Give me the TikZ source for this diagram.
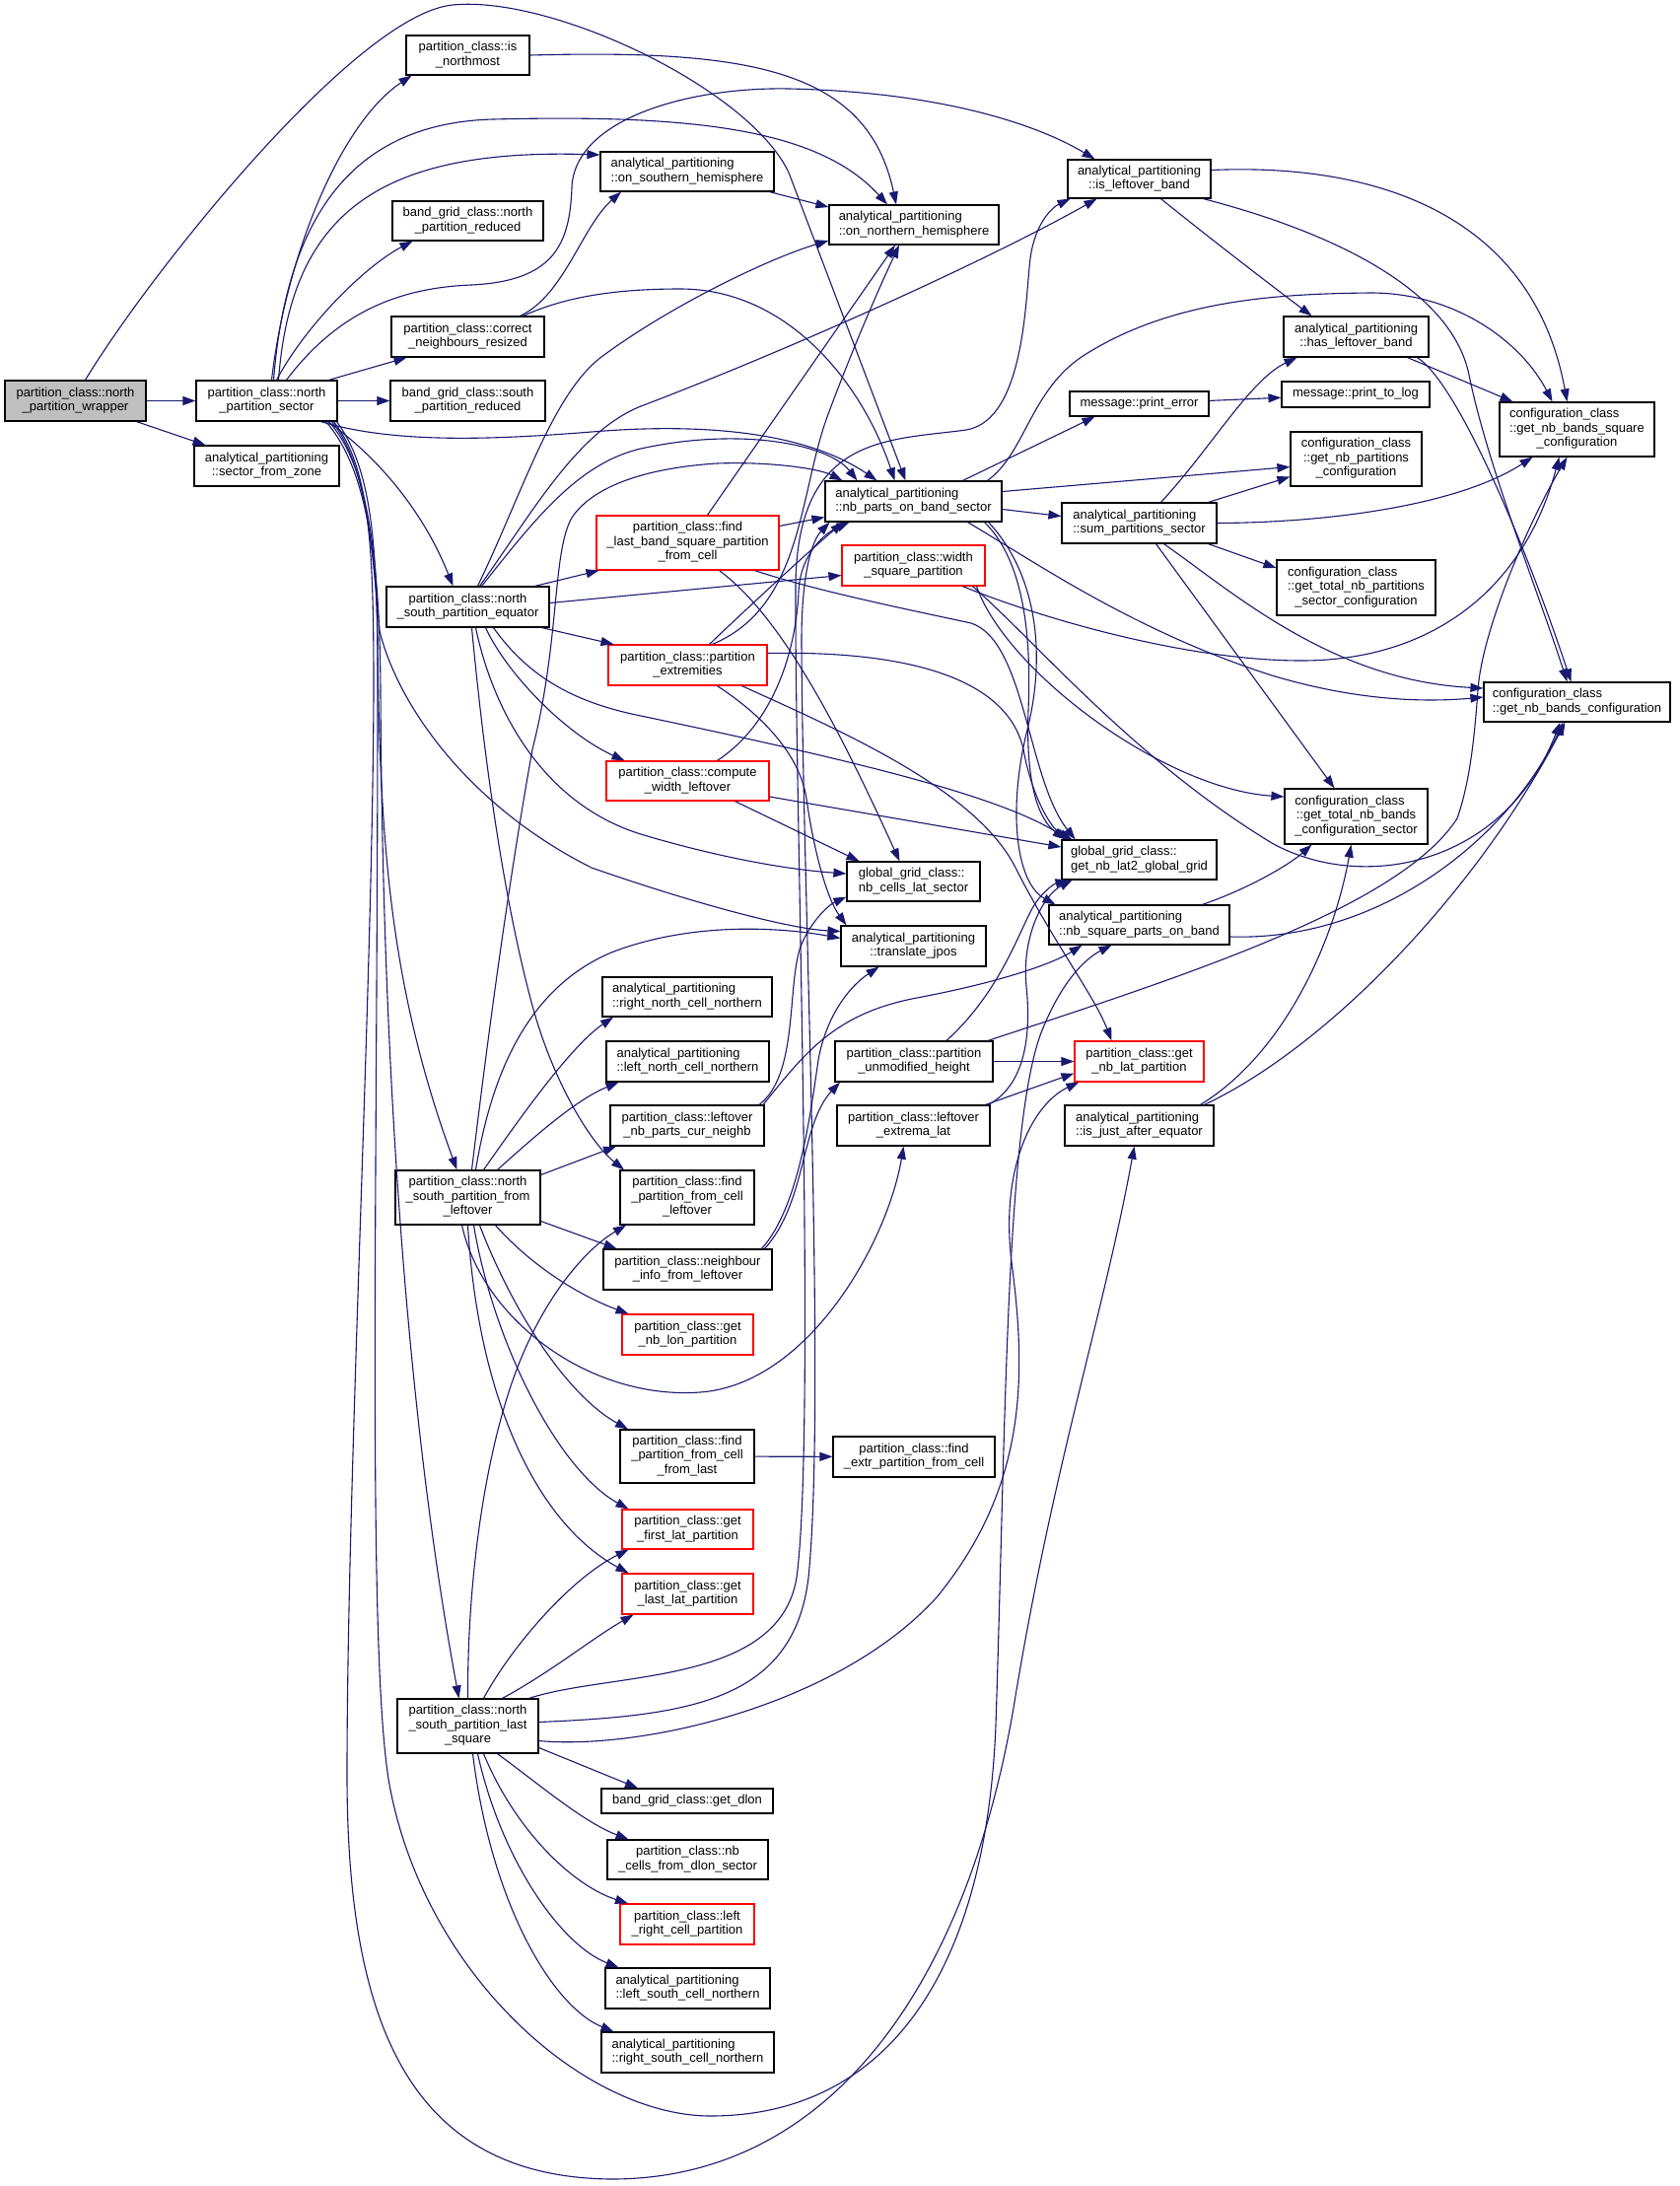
\documentclass[tikz,border=0pt]{standalone}
\usepackage{fontspec}
\setmainfont{Liberation Sans}
\usetikzlibrary{arrows.meta}
\definecolor{edgeblue}{HTML}{191970}
\definecolor{boxgray}{HTML}{BFBFBF}
\newcommand\ctx[1]{\begin{tabular}{@{}c@{}}#1\end{tabular}}
\newcommand\lfx[2]{\begin{tabular}{@{}c@{}}\multicolumn{1}{@{}l@{}}{#1}\\#2\end{tabular}}
\newcommand\mknode[7]{\node[#1,minimum width=#5pt,minimum height=#6pt] (#2) at (#3,#4) {#7};}
\begin{document}
\begin{tikzpicture}[x=1pt,y=-1pt,
 nbox/.style={draw=black,line width=1.2pt,fill=white,inner sep=0pt,font=\fontsize{13}{14.5}\selectfont},
 rbox/.style={nbox,draw=red},
 gbox/.style={nbox,fill=boxgray},
 cedge/.style={draw=edgeblue,line width=1.1pt,-{Triangle[length=13pt,width=9pt]}}]
\fill[white] (0,0) rectangle (1704,2217);
\useasboundingbox (0,0) rectangle (1704,2217);
% nodes
\mknode{gbox}{W}{76.5}{406.5}{143}{41}{\ctx{partition\_class::north\\\_partition\_wrapper}}
\mknode{nbox}{NPS}{270.5}{406.5}{143}{41}{\ctx{partition\_class::north\\\_partition\_sector}}
\mknode{nbox}{SFZ}{270.5}{472.5}{147}{41}{\lfx{analytical\_partitioning}{::sector\_from\_zone}}
\mknode{nbox}{ISN}{474.5}{56}{125}{40}{\ctx{partition\_class::is\\\_northmost}}
\mknode{nbox}{NPR}{474.5}{224}{153}{40}{\ctx{band\_grid\_class::north\\\_partition\_reduced}}
\mknode{nbox}{CNR}{474.5}{341.5}{155}{41}{\ctx{partition\_class::correct\\\_neighbours\_resized}}
\mknode{nbox}{SPR}{474.5}{406.5}{157}{41}{\ctx{band\_grid\_class::south\\\_partition\_reduced}}
\mknode{nbox}{EQ}{474.5}{615.5}{165}{41}{\ctx{partition\_class::north\\\_south\_partition\_equator}}
\mknode{nbox}{FL}{474.5}{1214.5}{147}{55}{\ctx{partition\_class::north\\\_south\_partition\_from\\\_leftover}}
\mknode{nbox}{LS}{474.5}{1750.5}{143}{55}{\ctx{partition\_class::north\\\_south\_partition\_last\\\_square}}
\mknode{nbox}{OSH}{697}{174}{176}{40}{\lfx{analytical\_partitioning}{::on\_southern\_hemisphere}}
\mknode{rbox}{FLB}{697.5}{550.5}{185}{55}{\ctx{partition\_class::find\\\_last\_band\_square\_partition\\\_from\_cell}}
\mknode{rbox}{PE}{697.5}{674.5}{161}{41}{\ctx{partition\_class::partition\\\_extremities}}
\mknode{rbox}{CWL}{697.5}{792}{165}{40}{\ctx{partition\_class::compute\\\_width\_leftover}}
\mknode{nbox}{RNC}{697}{1011}{172}{40}{\lfx{analytical\_partitioning}{::right\_north\_cell\_northern}}
\mknode{nbox}{LNC}{697.5}{1076.5}{165}{41}{\lfx{analytical\_partitioning}{::left\_north\_cell\_northern}}
\mknode{nbox}{LNP}{697}{1141.5}{156}{41}{\ctx{partition\_class::leftover\\\_nb\_parts\_cur\_neighb}}
\mknode{nbox}{FPL}{697}{1214.5}{136}{55}{\ctx{partition\_class::find\\\_partition\_from\_cell\\\_leftover}}
\mknode{nbox}{NIL}{697.5}{1287.5}{171}{41}{\ctx{partition\_class::neighbour\\\_info\_from\_leftover}}
\mknode{rbox}{GLON}{697.5}{1353.5}{133}{41}{\ctx{partition\_class::get\\\_nb\_lon\_partition}}
\mknode{nbox}{FPFL}{697}{1477}{136}{54}{\ctx{partition\_class::find\\\_partition\_from\_cell\\\_from\_last}}
\mknode{rbox}{GFLP}{697.5}{1551}{133}{40}{\ctx{partition\_class::get\\\_first\_lat\_partition}}
\mknode{rbox}{GLLP}{697.5}{1616.5}{133}{41}{\ctx{partition\_class::get\\\_last\_lat\_partition}}
\mknode{nbox}{DLON}{697}{1826.5}{174}{25}{\ctx{band\_grid\_class::get\_dlon}}
\mknode{nbox}{NCDS}{697.5}{1886}{163}{40}{\ctx{partition\_class::nb\\\_cells\_from\_dlon\_sector}}
\mknode{rbox}{LRCP}{697}{1951.5}{136}{41}{\ctx{partition\_class::left\\\_right\_cell\_partition}}
\mknode{nbox}{LSC}{697.5}{2016.5}{167}{41}{\lfx{analytical\_partitioning}{::left\_south\_cell\_northern}}
\mknode{nbox}{RSC}{697.5}{2081.5}{175}{41}{\lfx{analytical\_partitioning}{::right\_south\_cell\_northern}}
\mknode{nbox}{ONH}{927}{228}{172}{40}{\lfx{analytical\_partitioning}{::on\_northern\_hemisphere}}
\mknode{nbox}{NPB}{926.5}{508.5}{179}{41}{\lfx{analytical\_partitioning}{::nb\_parts\_on\_band\_sector}}
\mknode{rbox}{WSP}{926.5}{573.5}{145}{41}{\ctx{partition\_class::width\\\_square\_partition}}
\mknode{nbox}{NCLS}{926.5}{894}{135}{40}{\lfx{global\_grid\_class::}{nb\_cells\_lat\_sector}}
\mknode{nbox}{TJ}{926.5}{959.5}{147}{41}{\lfx{analytical\_partitioning}{::translate\_jpos}}
\mknode{nbox}{PUH}{927}{1076.5}{160}{41}{\ctx{partition\_class::partition\\\_unmodified\_height}}
\mknode{nbox}{LEL}{926.5}{1141.5}{155}{41}{\ctx{partition\_class::leftover\\\_extrema\_lat}}
\mknode{nbox}{FEPC}{927}{1477.5}{164}{41}{\ctx{partition\_class::find\\\_extr\_partition\_from\_cell}}
\mknode{nbox}{ILB}{1155.5}{181.5}{145}{39}{\lfx{analytical\_partitioning}{::is\_leftover\_band}}
\mknode{nbox}{PERR}{1155.5}{409.5}{141}{25}{\ctx{message::print\_error}}
\mknode{nbox}{SUM}{1155.5}{530.5}{157}{41}{\lfx{analytical\_partitioning}{::sum\_partitions\_sector}}
\mknode{nbox}{NL2}{1155.5}{872}{157}{40}{\lfx{global\_grid\_class::}{get\_nb\_lat2\_global\_grid}}
\mknode{nbox}{NSQ}{1155.5}{938}{183}{40}{\lfx{analytical\_partitioning}{::nb\_square\_parts\_on\_band}}
\mknode{rbox}{GLAT}{1155.5}{1076.5}{131}{41}{\ctx{partition\_class::get\\\_nb\_lat\_partition}}
\mknode{nbox}{IJAE}{1155.5}{1141.5}{151}{41}{\lfx{analytical\_partitioning}{::is\_just\_after\_equator}}
\mknode{nbox}{HLB}{1375.5}{341.5}{147}{41}{\lfx{analytical\_partitioning}{::has\_leftover\_band}}
\mknode{nbox}{PLOG}{1375}{400}{150}{26}{\ctx{message::print\_to\_log}}
\mknode{nbox}{GNPC}{1375.5}{465.5}{133}{55}{\lfx{configuration\_class}{::get\_nb\_partitions\\\_configuration}}
\mknode{nbox}{GTNPS}{1375.5}{596}{161}{56}{\lfx{configuration\_class}{::get\_total\_nb\_partitions\\\_sector\_configuration}}
\mknode{nbox}{GTNB}{1375.5}{828}{145}{56}{\lfx{configuration\_class}{::get\_total\_nb\_bands\\\_configuration\_sector}}
\mknode{nbox}{GBSQ}{1599.5}{435.5}{157}{55}{\lfx{configuration\_class}{::get\_nb\_bands\_square\\\_configuration}}
\mknode{nbox}{GNB}{1599.5}{712}{189}{40}{\lfx{configuration\_class}{::get\_nb\_bands\_configuration}}
% wrapper
\draw[cedge] (W) -- (NPS);
\draw[cedge] (W) -- (SFZ);
\draw[cedge] ([xshift=10pt]W.north) .. controls (150,280) and (360,15) .. (459,5) .. controls (560,-5) and (760,90) .. (800,175) -- (NPB);
% north_partition_sector
\draw[cedge] ([xshift=5pt]NPS.north) .. controls (290,260) and (345,125) .. ([xshift=-57pt]ISN.south);
\draw[cedge] ([xshift=10pt]NPS.north) .. controls (310,330) and (370,270) .. ([xshift=-56pt]NPR.south);
\draw[cedge] ([xshift=63pt]NPS.north) -- ([xshift=-62pt]CNR.south);
\draw[cedge] (NPS) -- (SPR);
\draw[cedge] ([xshift=12pt]NPS.north) .. controls (295,220) and (380,150) .. ([yshift=17pt]OSH.west);
\draw[cedge] ([xshift=7pt]NPS.north) .. controls (290,230) and (350,125) .. (500,121) .. controls (700,116) and (830,130) .. ([xshift=-27pt]ONH.north);
\draw[cedge] ([xshift=20pt]NPS.north) .. controls (340,320) and (400,292) .. (478,289) .. controls (560,285) and (578,250) .. (580,190) .. controls (583,120) and (700,88) .. (800,90) .. controls (950,93) and (1050,125) .. ([xshift=-45pt]ILB.north);
\draw[cedge] ([xshift=55pt]NPS.south) .. controls (400,450) and (500,446) .. (600,438) .. controls (720,428) and (820,440) .. ([xshift=-37pt]NPB.north);
\draw[cedge] ([xshift=62pt]NPS.south) .. controls (385,465) and (430,520) .. ([xshift=-15pt]EQ.north);
\draw[cedge] ([xshift=66pt]NPS.south) .. controls (372,470) and (378,560) .. (385,640) .. controls (405,720) and (480,820) .. (600,880) .. controls (700,915) and (800,942) .. ([yshift=15pt]TJ.west);
\draw[cedge] ([xshift=60pt]NPS.south) .. controls (368,470) and (382,550) .. (383,650) .. controls (385,850) and (395,1000) .. ([xshift=-11pt]FL.north);
\draw[cedge] ([xshift=63pt]NPS.south) .. controls (372,470) and (385,560) .. (386,700) .. controls (388,1100) and (415,1450) .. ([xshift=-9pt]LS.north);
\draw[cedge] ([xshift=68pt]NPS.south) .. controls (376,475) and (379,560) .. (379,700) .. controls (378,1000) and (352,1500) .. (352,1800) .. controls (352,2060) and (420,2208) .. (620,2210) .. controls (850,2210) and (985,2000) .. (1030,1720) .. controls (1070,1480) and (1120,1330) .. ([xshift=-5pt]IJAE.south);
\draw[cedge] ([xshift=71pt]NPS.south) .. controls (379,478) and (383,560) .. (383,700) .. controls (383,1200) and (372,1680) .. (395,1810) .. controls (430,2000) and (590,2145) .. (720,2146) .. controls (900,2146) and (1000,2000) .. (1010,1750) .. controls (1020,1450) and (1020,1150) .. (1055,1050) .. controls (1078,990) and (1105,970) .. ([xshift=-28pt]NSQ.south);
% correct_neighbours, southern, northmost
\draw[cedge] ([xshift=53pt]CNR.north) .. controls (572,300) and (590,230) .. ([xshift=-67pt]OSH.south);
\draw[cedge] ([xshift=56pt]CNR.north) .. controls (565,305) and (610,293) .. (690,293) .. controls (800,293) and (875,390) .. ([xshift=-19pt]NPB.north);
\draw[cedge] ([xshift=-5pt]OSH.south east) -- ([yshift=18pt]ONH.west);
\draw[cedge] (ISN.east) .. controls (760,50) and (880,70) .. ([xshift=-18pt]ONH.north);
% equator
\draw[cedge] ([xshift=10pt]EQ.north) .. controls (530,500) and (560,400) .. (610,362) .. controls (680,310) and (780,262) .. ([yshift=-16pt]ONH.west);
\draw[cedge] ([xshift=12pt]EQ.north) .. controls (540,520) and (585,438) .. (650,412) .. controls (800,355) and (1000,265) .. ([xshift=-43pt]ILB.south);
\draw[cedge] ([xshift=14pt]EQ.north) .. controls (540,530) and (585,470) .. (650,455) .. controls (750,433) and (840,450) .. ([xshift=-57pt]NPB.north);
\draw[cedge] ([xshift=68pt]EQ.north) -- ([xshift=-90pt]FLB.south);
\draw[cedge] ([yshift=4pt]EQ.east) -- ([yshift=-10pt]WSP.west);
\draw[cedge] ([xshift=75pt]EQ.south) -- ([xshift=-75pt]PE.north);
\draw[cedge] ([xshift=18pt]EQ.south) .. controls (515,685) and (575,745) .. ([xshift=-64pt]CWL.north);
\draw[cedge] ([xshift=8pt]EQ.south) .. controls (500,720) and (550,815) .. (650,846) .. controls (730,870) and (800,882) .. ([yshift=8pt]NCLS.west);
\draw[cedge] ([xshift=26pt]EQ.south) .. controls (535,685) and (580,712) .. (650,726) .. controls (850,768) and (1010,805) .. ([xshift=-72pt]NL2.north);
\draw[cedge] ([xshift=4pt]EQ.south) .. controls (490,760) and (510,910) .. (540,1020) .. controls (562,1100) and (600,1160) .. ([xshift=-64pt]FPL.north);
% find_last_band
\draw[cedge] ([xshift=20pt]FLB.north) -- ([xshift=-19pt]ONH.south);
\draw[cedge] ([yshift=17pt]FLB.east) -- ([yshift=-16pt]NPB.west);
\draw[cedge] ([xshift=32pt]FLB.south) .. controls (800,630) and (865,770) .. ([xshift=-14pt]NCLS.north);
\draw[cedge] ([xshift=68pt]FLB.south) .. controls (830,600) and (930,620) .. (985,632) .. controls (1040,650) and (1042,790) .. ([xshift=-65pt]NL2.north);
% partition_extremities
\draw[cedge] ([xshift=25pt]PE.north) .. controls (815,615) and (810,500) .. (840,420) .. controls (868,345) and (895,285) .. ([xshift=-15pt]ONH.south);
\draw[cedge] ([xshift=22pt]PE.north) .. controls (765,610) and (825,555) .. ([xshift=-71pt]NPB.south);
\draw[cedge] ([xshift=30pt]PE.south) .. controls (780,730) and (812,770) .. (818,810) .. controls (825,860) and (838,910) .. ([xshift=-68pt]TJ.north);
\draw[cedge] ([xshift=55pt]PE.south) .. controls (850,740) and (990,800) .. (1030,880) .. controls (1068,955) and (1110,1010) .. ([xshift=-28pt]GLAT.north);
\draw[cedge] ([yshift=12pt]PE.east) .. controls (900,660) and (1020,680) .. (1038,760) .. controls (1046,805) and (1065,840) .. ([xshift=-68pt]NL2.north);
% compute_width_leftover
\draw[cedge] ([xshift=30pt]CWL.north) .. controls (790,730) and (808,650) .. (810,600) .. controls (812,560) and (838,540) .. ([xshift=-65pt]NPB.south);
\draw[cedge] ([xshift=48pt]CWL.south) -- ([xshift=-55pt]NCLS.north);
\draw[cedge] ([yshift=-16pt]CWL.east) -- ([yshift=13pt]NL2.west);
% width_square_partition
\draw[cedge] ([xshift=50pt]WSP.south) .. controls (1050,625) and (1200,670) .. (1320,670) .. controls (1450,670) and (1545,600) .. ([xshift=-18pt]GBSQ.south);
\draw[cedge] ([xshift=60pt]WSP.south) .. controls (1050,650) and (1150,770) .. (1290,855) .. controls (1380,905) and (1525,880) .. ([xshift=-17pt]GNB.south);
\draw[cedge] ([xshift=64pt]WSP.south) .. controls (1020,680) and (1180,800) .. ([yshift=20pt]GTNB.west);
% nb_parts_on_band_sector
\draw[cedge] ([xshift=50pt]NPB.north) -- ([xshift=-45pt]PERR.south);
\draw[cedge] ([xshift=75pt]NPB.north) .. controls (1040,460) and (1045,395) .. (1100,360) .. controls (1190,303) and (1300,298) .. (1390,297) .. controls (1480,297) and (1545,350) .. ([xshift=-25pt]GBSQ.north);
\draw[cedge] ([yshift=10pt]NPB.east) -- ([yshift=-8pt]GNPC.west);
\draw[cedge] ([yshift=-8pt]NPB.east) -- ([yshift=7pt]SUM.west);
\draw[cedge] ([xshift=55pt]NPB.south) .. controls (1050,570) and (1150,640) .. (1290,685) .. controls (1380,712) and (1450,712) .. ([yshift=5pt]GNB.west);
\draw[cedge] ([xshift=72pt]NPB.south) .. controls (1040,570) and (1046,650) .. (1043,720) .. controls (1040,800) and (1055,832) .. ([xshift=-75pt]NL2.north);
\draw[cedge] ([xshift=76pt]NPB.south) .. controls (1050,580) and (1062,660) .. (1042,740) .. controls (1022,820) and (1030,895) .. ([xshift=-85pt]NSQ.north);
% sum_partitions_sector
\draw[cedge] ([xshift=22pt]SUM.north) .. controls (1228,455) and (1268,385) .. ([xshift=-60pt]HLB.south);
\draw[cedge] ([xshift=70pt]SUM.north) -- ([yshift=-18pt]GNPC.west);
\draw[cedge] (SUM.east) .. controls (1350,530) and (1480,512) .. ([xshift=-45pt]GBSQ.south);
\draw[cedge] ([xshift=70pt]SUM.south) -- ([yshift=20pt]GTNPS.west);
\draw[cedge] ([xshift=17pt]SUM.south) -- ([xshift=-22pt]GTNB.north);
\draw[cedge] ([xshift=25pt]SUM.south) .. controls (1250,600) and (1350,690) .. ([yshift=14pt]GNB.west);
% is_leftover_band, has_leftover_band, print_error
\draw[cedge] ([yshift=9pt]ILB.east) .. controls (1400,165) and (1555,220) .. ([xshift=-10pt]GBSQ.north);
\draw[cedge] ([xshift=22pt]ILB.south) .. controls (1225,240) and (1290,290) .. ([xshift=-45pt]HLB.north);
\draw[cedge] ([xshift=65pt]ILB.south) .. controls (1330,230) and (1470,285) .. (1490,380) .. controls (1508,470) and (1560,600) .. ([xshift=-10pt]GNB.north);
\draw[cedge] ([xshift=52pt]HLB.south) -- ([xshift=-65pt]GBSQ.north);
\draw[cedge] ([xshift=62pt]HLB.south) .. controls (1480,390) and (1550,560) .. ([xshift=-6pt]GNB.north);
\draw[cedge] (PERR) -- (PLOG);
% lower middle
\draw[cedge] ([xshift=75pt]NIL.north) .. controls (810,1225) and (822,1130) .. (830,1075) .. controls (838,1030) and (862,1000) .. ([xshift=-35pt]TJ.south);
\draw[cedge] ([xshift=78pt]NIL.north) .. controls (818,1220) and (812,1140) .. ([xshift=-75pt]PUH.south);
\draw[cedge] ([xshift=73pt]LNP.north) .. controls (810,1090) and (798,1000) .. (812,960) .. controls (822,935) and (840,918) .. ([yshift=5pt]NCLS.south west);
\draw[cedge] ([xshift=77pt]LNP.north) .. controls (815,1070) and (845,1028) .. (930,1012) .. controls (1020,995) and (1070,976) .. ([xshift=-58pt]NSQ.south);
\draw[cedge] (PUH) -- (GLAT);
\draw[cedge] ([xshift=33pt]PUH.north) .. controls (1010,1010) and (1030,955) .. (1045,925) .. controls (1055,905) and (1070,896) .. ([xshift=-72pt]NL2.south);
\draw[cedge] ([xshift=75pt]PUH.north) .. controls (1200,990) and (1420,920) .. (1478,830) .. controls (1492,790) and (1496,740) .. (1499,700) .. controls (1503,640) and (1550,530) .. ([xshift=-10pt]GBSQ.south);
\draw[cedge] ([xshift=73pt]LEL.north) -- ([yshift=-12pt]GLAT.west);
\draw[cedge] ([xshift=76pt]LEL.north) .. controls (1040,1100) and (1046,1050) .. (1041,1000) .. controls (1036,950) and (1058,908) .. ([xshift=-68pt]NL2.south);
\draw[cedge] ([xshift=62pt]IJAE.north) .. controls (1300,1070) and (1352,960) .. ([xshift=-5pt]GTNB.south);
\draw[cedge] ([xshift=66pt]IJAE.north) .. controls (1350,1060) and (1500,900) .. ([xshift=-12pt]GNB.south);
\draw[cedge] ([xshift=64pt]NSQ.north) .. controls (1270,900) and (1310,875) .. ([xshift=-45pt]GTNB.south);
\draw[cedge] ([yshift=-12pt]NSQ.east) .. controls (1400,955) and (1530,850) .. ([xshift=-14pt]GNB.south);
% from_leftover
\draw[cedge] ([xshift=4pt]FL.north) .. controls (495,1050) and (515,900) .. (540,760) .. controls (568,650) and (560,560) .. (580,525) .. controls (600,495) and (650,475) .. (727,470) .. controls (780,468) and (830,475) .. ([xshift=-72pt]NPB.north);
\draw[cedge] ([xshift=8pt]FL.north) .. controls (500,1080) and (540,1000) .. (620,966) .. controls (700,935) and (790,940) .. ([yshift=8pt]TJ.west);
\draw[cedge] ([xshift=16pt]FL.north) .. controls (530,1130) and (580,1060) .. ([xshift=-75pt]RNC.south);
\draw[cedge] ([xshift=30pt]FL.north) .. controls (545,1150) and (585,1115) .. ([xshift=-70pt]LNC.south);
\draw[cedge] ([yshift=23pt]FL.east) -- ([xshift=-72pt]LNP.south);
\draw[cedge] ([yshift=-24pt]FL.east) -- ([xshift=-72pt]NIL.north);
\draw[cedge] ([xshift=28pt]FL.south) .. controls (540,1285) and (590,1315) .. ([xshift=-60pt]GLON.north);
\draw[cedge] ([xshift=12pt]FL.south) .. controls (520,1330) and (575,1415) .. ([xshift=-60pt]FPFL.north);
\draw[cedge] ([xshift=6pt]FL.south) .. controls (500,1360) and (565,1490) .. ([xshift=-60pt]GFLP.north);
\draw[cedge] (FL.south) .. controls (485,1420) and (545,1545) .. ([xshift=-60pt]GLLP.north);
\draw[cedge] ([xshift=-6pt]FL.south) .. controls (490,1340) and (600,1420) .. (710,1412) .. controls (820,1404) and (900,1260) .. ([xshift=-10pt]LEL.south);
% last_square
\draw[cedge] (LS.north) .. controls (474,1600) and (492,1480) .. (520,1400) .. controls (548,1320) and (592,1268) .. ([xshift=-62pt]FPL.south);
\draw[cedge] ([xshift=16pt]LS.north) .. controls (520,1668) and (580,1600) .. ([xshift=-60pt]GFLP.south);
\draw[cedge] ([xshift=35pt]LS.north) .. controls (560,1695) and (600,1662) .. ([xshift=-55pt]GLLP.south);
\draw[cedge] ([xshift=62pt]LS.north) .. controls (620,1695) and (790,1710) .. (808,1600) .. controls (828,1450) and (806,800) .. (807,600) .. controls (806,440) and (900,447) .. (980,436) .. controls (1040,426) and (1040,300) .. (1045,262) .. controls (1050,225) and (1068,210) .. ([xshift=-70pt]ILB.south);
\draw[cedge] ([yshift=4pt]LS.east) .. controls (700,1740) and (805,1725) .. (820,1600) .. controls (838,1420) and (814,900) .. (813,650) .. controls (813,580) and (824,548) .. ([xshift=-85pt]NPB.south);
\draw[cedge] ([yshift=-15pt]LS.east) .. controls (650,1775) and (850,1730) .. (950,1620) .. controls (1040,1510) and (1042,1400) .. (1026,1280) .. controls (1014,1180) and (1050,1118) .. ([xshift=5pt]GLAT.south west);
\draw[cedge] ([yshift=-22pt]LS.east) -- ([xshift=-50pt]DLON.north);
\draw[cedge] ([xshift=30pt]LS.south) .. controls (550,1812) and (592,1848) .. ([xshift=-60pt]NCDS.north);
\draw[cedge] ([xshift=16pt]LS.south) .. controls (522,1855) and (580,1912) .. ([xshift=-60pt]LRCP.north);
\draw[cedge] ([xshift=10pt]LS.south) .. controls (508,1885) and (568,1972) .. ([xshift=-70pt]LSC.north);
\draw[cedge] ([xshift=5pt]LS.south) .. controls (498,1930) and (560,2035) .. ([xshift=-75pt]RSC.north);
\draw[cedge] (FPFL) -- (FEPC);
\end{tikzpicture}
\end{document}
